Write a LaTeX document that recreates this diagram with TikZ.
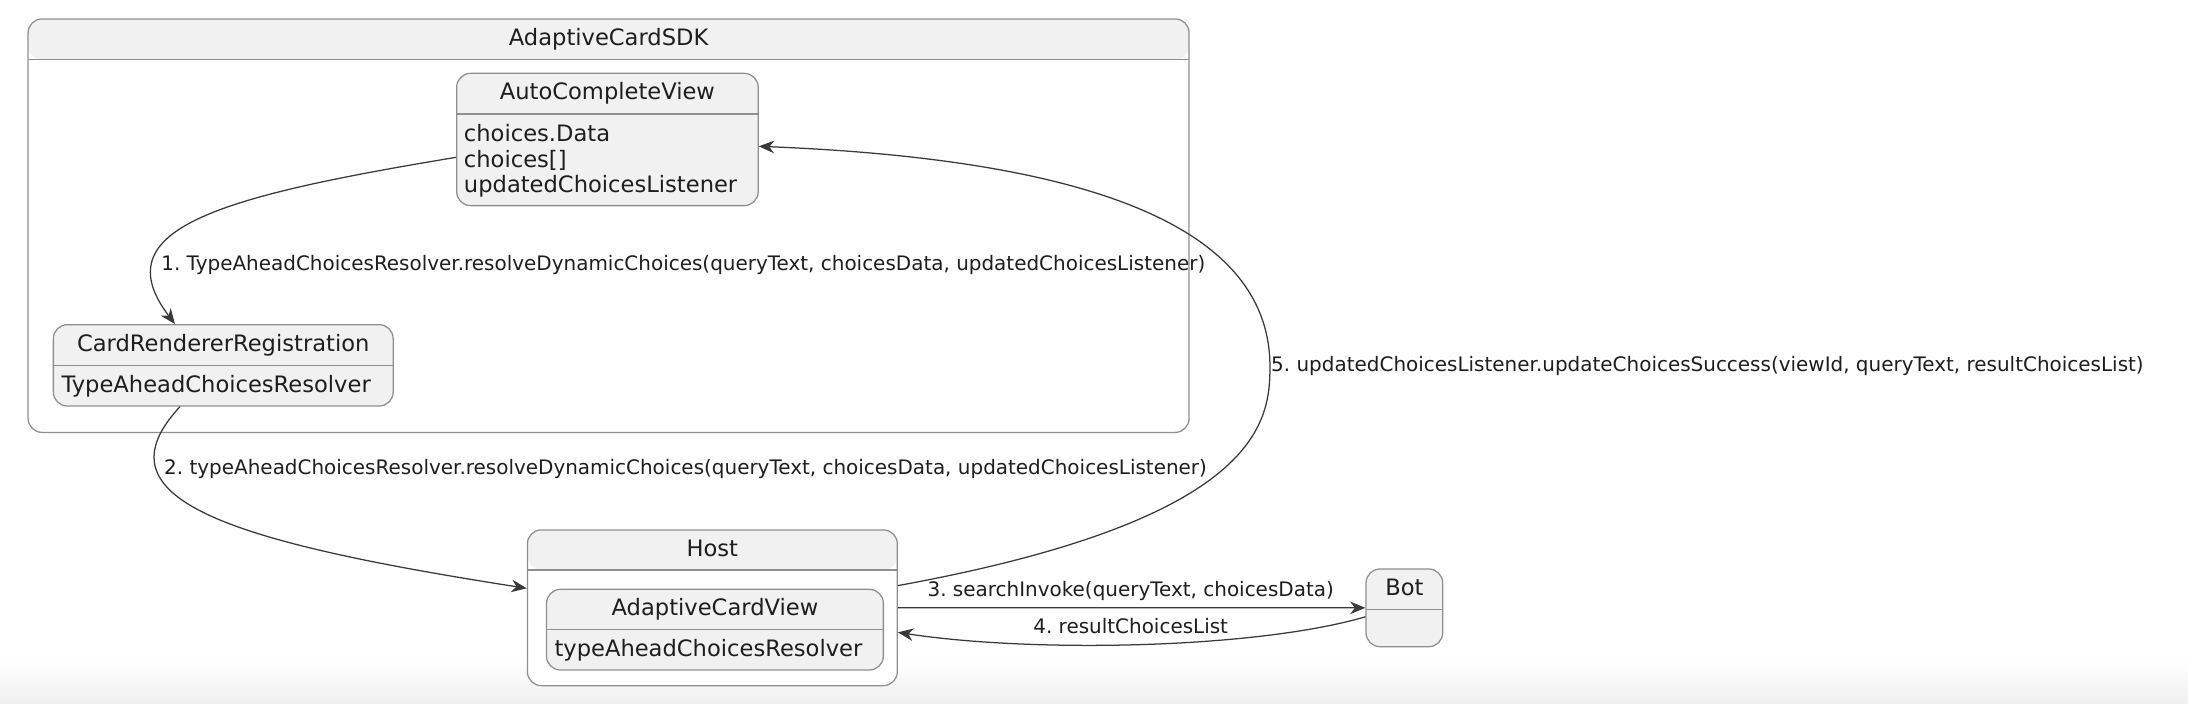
\documentclass[tikz,border=0pt]{standalone}
\usepackage{fontspec}
\setmainfont{DejaVu Sans}
\usetikzlibrary{arrows.meta, positioning, calc}
\frenchspacing
\definecolor{StateFill}{HTML}{F1F1F1}
\definecolor{StateLine}{HTML}{8F8F8F}
\definecolor{EdgeGray}{HTML}{3A3A3A}
\definecolor{InkBlack}{HTML}{1E1E1E}

\begin{document}
\begin{tikzpicture}[x=1pt, y=-1pt,
    state/.style={draw=StateLine, line width=0.9pt, fill=StateFill, rounded corners=10pt,
                  inner sep=0pt, anchor=north west},
    header/.style={path picture={
        \fill[StateFill] (path picture bounding box.north west) rectangle
              ([yshift=-#1]path picture bounding box.north east);
        \draw[StateLine, line width=0.9pt] ([yshift=-#1]path picture bounding box.north west) --
              ([yshift=-#1]path picture bounding box.north east);}},
    statetitle/.style={font=\fontsize{16.2}{18.3}\selectfont, text=InkBlack, anchor=base, inner sep=0pt},
    field/.style={font=\fontsize{16.2}{18.3}\selectfont, text=InkBlack, anchor=base west,
                  inner sep=0pt, align=left},
    msg/.style={font=\fontsize{14.3}{16}\selectfont, text=InkBlack, inner sep=0pt},
    flow/.style={draw=EdgeGray, line width=0.9pt,
                 -{Stealth[length=11pt, width=9pt, inset=3.5pt]}}]

% page and the soft shadow at the bottom
\fill[white] (0,0) rectangle (1568,504.5);
\useasboundingbox (0,0) rectangle (1568,504.5);
\shade[top color=white, bottom color=black!6] (0,472) rectangle (1568,504.5);

% AdaptiveCardSDK
\node[state, fill=white, header=29.2pt, minimum width=832pt, minimum height=296.3pt] (sdk) at (19.7,13.1) {};
\node[statetitle] (sdkTitle) at ($(sdk.north)+(0,19.3)$) {AdaptiveCardSDK};

\node[state, header=29.1pt, minimum width=216.1pt, minimum height=94.8pt] (autoview) at (326.8,52.1) {};
\node[statetitle] (autoviewTitle) at ($(autoview.north)+(0,19.5)$) {AutoCompleteView};
\node[field, anchor=north west] (autoviewFields) at (332.3,89.1)
      {choices.Data\\choices[]\\updatedChoicesListener};

\node[state, header=29.4pt, minimum width=243.5pt, minimum height=58.3pt] (registration) at (37.8,232.2) {};
\node[statetitle] (registrationTitle) at ($(registration.north)+(0,19.5)$) {CardRendererRegistration};
\node[field] (registrationField) at (43.9,281) {TypeAheadChoicesResolver};

% Host
\node[state, fill=white, header=28.7pt, minimum width=265.1pt, minimum height=111.6pt] (host) at (377.5,379.3) {};
\node[statetitle] (hostTitle) at ($(host.north)+(0,19.5)$) {Host};

\node[state, header=28.9pt, minimum width=241.4pt, minimum height=57.8pt] (cardview) at (391.2,421.9) {};
\node[statetitle] (cardviewTitle) at ($(cardview.north)+(0,19.5)$) {AdaptiveCardView};
\node[field] (cardviewField) at (397.2,470.8) {typeAheadChoicesResolver};

% Bot
\node[state, header=29.1pt, minimum width=54.9pt, minimum height=55.7pt] (bot) at (978.5,407.3) {};
\node[statetitle] (botTitle) at ($(bot.north)+(0,19.5)$) {Bot};

% messages
\draw[flow] ($(autoview.west)+(0,12.8)$) .. controls (156,141) and (73.5,164) .. ($(registration.north west)+(87.6,0)$);
\node[msg, anchor=base west] (callResolver) at (115.4,193.6)
      {1. TypeAheadChoicesResolver.resolveDynamicChoices(queryText, choicesData, updatedChoicesListener)};

\draw[flow] ($(registration.south west)+(91.2,0)$) .. controls (67.8,357.1) and (160,387.7) .. ($(host.north west)+(0,42.3)$);
\node[msg, anchor=base west] (callHost) at (117.5,340)
      {2. typeAheadChoicesResolver.resolveDynamicChoices(queryText, choicesData, updatedChoicesListener)};

\draw[flow] (host.east) -- (bot.west);
\node[msg, anchor=base] (searchInvoke) at (810.3,427.2) {3. searchInvoke(queryText, choicesData)};

\draw[flow] ($(bot.west)+(0,6.4)$) .. controls (900,465) and (740,468) .. ($(host.east)+(0,17.6)$);
\node[msg, anchor=base] (resultList) at (810.3,454) {4. resultChoicesList};

\draw[flow] ($(host.east)+(0,-15.9)$) .. controls (902.6,372.4) and (910.1,302.8) .. (910.1,262.8)
      .. controls (910.1,170) and (800,115) .. ($(autoview.east)+(0,4.9)$);
\node[msg, anchor=base west] (updateSuccess) at (910.8,266.5)
      {5. updatedChoicesListener.updateChoicesSuccess(viewId, queryText, resultChoicesList)};
\end{tikzpicture}
\end{document}
